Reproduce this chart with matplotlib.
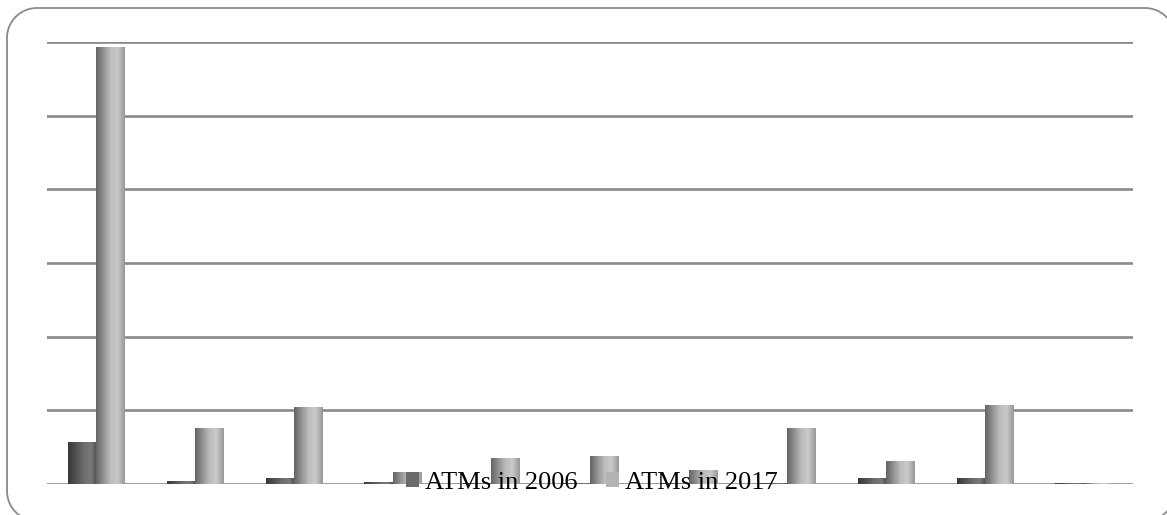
import numpy as np
import matplotlib.pyplot as plt
from matplotlib.colors import LinearSegmentedColormap
from matplotlib.lines import Line2D
from matplotlib.patches import Patch

# ATMs per bank (thousands), gridlines every 10
atm_2006 = [5.6, 0.3, 0.8, 0.15, 0.1, 0.1, 0.1, 0.1, 0.8, 0.7, 0.05]
atm_2017 = [59.3, 7.6, 10.4, 1.5, 3.5, 3.8, 1.9, 7.5, 3.1, 10.6, 0.1]
series_labels = ['ATMs in 2006', 'ATMs in 2017']

# cylinder-like shading for each series
dark_cmap = LinearSegmentedColormap.from_list(
    'dark', [(0, '#383838'), (0.55, '#6c6c6c'), (0.8, '#7a7a7a'), (1, '#505050')])
light_cmap = LinearSegmentedColormap.from_list(
    'light', [(0, '#656565'), (0.5, '#bcbcbc'), (0.75, '#cacaca'), (1, '#989898')])

W, H = 1167, 515
fig = plt.figure(figsize=(W / 100, H / 100), dpi=100)


def rounded_rect(x0, y0, x1, y1, r, steps=24):
    # closed outline of a rounded rectangle as a polyline
    corners = [(x1 - r, y1 - r, 0), (x0 + r, y1 - r, 90),
               (x0 + r, y0 + r, 180), (x1 - r, y0 + r, 270)]
    xs, ys = [], []
    for cx, cy, a in corners:
        t = np.radians(np.linspace(a, a + 90, steps))
        xs.extend(cx + r * np.cos(t))
        ys.extend(cy + r * np.sin(t))
    xs.append(xs[0])
    ys.append(ys[0])
    return np.array(xs), np.array(ys)


# outer frame in display pixels, partly running off the canvas
fx, fy = rounded_rect(7, -6, 1175, 507, 30)
fig.add_artist(Line2D(fx, fy, color='#8a8a8a', lw=1.3, transform=None))

ax = fig.add_axes([47 / W, 1 - 484 / H, (1133 - 47) / W, (484 - 42) / H])
ax.patch.set_alpha(0)

n = len(atm_2006)
x = np.arange(n)
bw = 0.285
grad = np.linspace(0, 1, 64).reshape(1, -1)


def shaded_bar(ax, left, width, height, cmap):
    if height <= 0:
        return
    ax.imshow(grad, cmap=cmap, extent=[left, left + width, 0, height],
              aspect='auto', interpolation='bilinear', zorder=3)


for i in range(n):
    shaded_bar(ax, x[i] - bw, bw, atm_2006[i], dark_cmap)
    shaded_bar(ax, x[i], bw, atm_2017[i], light_cmap)

ax.set_xlim(-0.5, n - 0.5)
ax.set_ylim(0, 60)
ax.set_yticks(np.arange(0, 61, 10))
ax.yaxis.grid(True, color='#8a8a8a', lw=1.9)
ax.set_axisbelow(True)
ax.tick_params(left=False, bottom=False, labelleft=False, labelbottom=False)
for s in ax.spines.values():
    s.set_visible(False)

handles = [Patch(fc='#6a6a6a', ec='none'), Patch(fc='#b4b4b4', ec='none')]
leg = fig.legend(handles, series_labels, loc='center', bbox_to_anchor=(0.507, 0.062),
                 ncol=2, frameon=False, handlelength=0.5, handleheight=0.5,
                 handletextpad=0.2, columnspacing=1.1,
                 prop={'family': 'Liberation Serif', 'size': 19})
leg.set_zorder(10)

fig.savefig('out.png', dpi=100)
